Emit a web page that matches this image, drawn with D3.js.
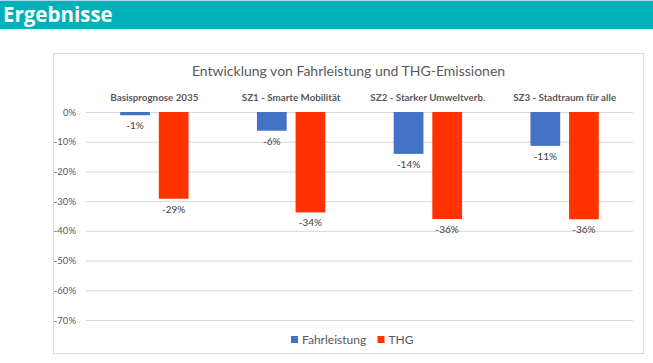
<!DOCTYPE html>
<html>
<head>
<meta charset="utf-8">
<script src="https://cdn.jsdelivr.net/npm/d3@7"></script>
<style>
  body { margin: 0; background: #fff; }
  svg text { font-family: Lato, "Open Sans", sans-serif; }
</style>
</head>
<body>
<div id="chart"></div>
<script>
// data
let categories = ["Basisprognose 2035", "SZ1 - Smarte Mobilität", "SZ2 - Starker Umweltverb.", "SZ3 - Stadtraum für alle"];
let series = ["Fahrleistung", "THG"];
let fahrleistung = [-0.011, -0.063, -0.141, -0.114];
let thg = [-0.292, -0.338, -0.36, -0.361];
let yTicks = [0, -0.1, -0.2, -0.3, -0.4, -0.5, -0.6, -0.7];

let colors = { Fahrleistung: "#4472C4", THG: "#FF3300" };

// plain hyphen as minus, like Excel
let pct = d3.formatLocale({ decimal: ",", thousands: ".", grouping: [3], currency: ["", "€"], minus: "-" }).format(".0%");

let svgWidth = 653;
let svgHeight = 363;

let svg = d3.select("#chart")
  .append("svg")
  .attr("width", svgWidth)
  .attr("height", svgHeight);

// header bar
svg.append("rect")
  .attr("x", 0).attr("y", 0)
  .attr("width", svgWidth).attr("height", 1)
  .attr("fill", "#9ddfe3");
svg.append("rect")
  .attr("x", 0).attr("y", 1)
  .attr("width", svgWidth).attr("height", 28)
  .attr("fill", "#00B0B9");
svg.append("text")
  .attr("x", 3).attr("y", 22)
  .attr("fill", "#fff")
  .style("font-family", "'Open Sans', sans-serif")
  .style("font-weight", "bold")
  .style("font-size", "20.5px")
  .text("Ergebnisse");

// chart frame
svg.append("rect")
  .attr("x", 53.5).attr("y", 53.5)
  .attr("width", 590).attr("height", 300)
  .attr("fill", "#fff")
  .attr("stroke", "#d9d9d9");

svg.append("text")
  .attr("x", 348.5).attr("y", 76)
  .attr("text-anchor", "middle")
  .attr("fill", "#595959")
  .style("font-size", "14px")
  .text("Entwicklung von Fahrleistung und THG-Emissionen");

let plot = { left: 86, right: 633, top: 112, bottom: 320 };

let x0 = d3.scaleBand()
  .domain(categories)
  .range([plot.left, plot.right])
  .paddingInner(0.5)
  .paddingOuter(0.25);

let x1 = d3.scaleBand()
  .domain(series)
  .range([0, x0.bandwidth()])
  .paddingInner(0.23);

let y = d3.scaleLinear()
  .domain([0, -0.7])
  .range([plot.top, plot.bottom]);

// gridlines + tick labels
let yAxis = d3.axisLeft(y)
  .tickValues(yTicks)
  .tickFormat(pct)
  .tickSize(-(plot.right - plot.left))
  .tickPadding(10);

let axisG = svg.append("g")
  .attr("transform", `translate(${plot.left}, 0)`)
  .call(yAxis);
axisG.select(".domain").remove();
axisG.selectAll(".tick line").attr("stroke", "#d9d9d9");
axisG.selectAll(".tick text")
  .attr("fill", "#595959")
  .style("font-size", "9.5px");

// category labels on top
svg.append("g").selectAll("text")
  .data(categories)
  .enter()
  .append("text")
  .attr("x", d => x0(d) + x0.bandwidth() / 2)
  .attr("y", 101)
  .attr("text-anchor", "middle")
  .attr("fill", "#595959")
  .style("font-size", "9.8px")
  .style("font-weight", "bold")
  .text(d => d);

let rows = categories.map((c, i) => ({ cat: c, Fahrleistung: fahrleistung[i], THG: thg[i] }));

let groups = svg.append("g").selectAll("g")
  .data(rows)
  .enter()
  .append("g")
  .attr("transform", d => `translate(${x0(d.cat)}, 0)`);

groups.selectAll("rect")
  .data(d => series.map(s => ({ key: s, value: d[s] })))
  .enter()
  .append("rect")
  .attr("x", d => x1(d.key))
  .attr("y", y(0))
  .attr("width", x1.bandwidth())
  .attr("height", d => y(d.value) - y(0))
  .attr("fill", d => colors[d.key]);

groups.selectAll("text")
  .data(d => series.map(s => ({ key: s, value: d[s] })))
  .enter()
  .append("text")
  .attr("x", d => x1(d.key) + x1.bandwidth() / 2)
  .attr("y", d => y(d.value) + 14)
  .attr("text-anchor", "middle")
  .attr("fill", "#404040")
  .style("font-size", "10px")
  .text(d => pct(d.value));

// legend
let legendX = [291, 377.5];
let legend = svg.append("g").selectAll("g")
  .data(series)
  .enter()
  .append("g")
  .attr("transform", (d, i) => `translate(${legendX[i]}, 336)`);
legend.append("rect")
  .attr("width", 7).attr("height", 7)
  .attr("fill", d => colors[d]);
legend.append("text")
  .attr("x", 11).attr("y", 7.5)
  .attr("fill", "#595959")
  .style("font-size", "12px")
  .text(d => d);
</script>
</body>
</html>
